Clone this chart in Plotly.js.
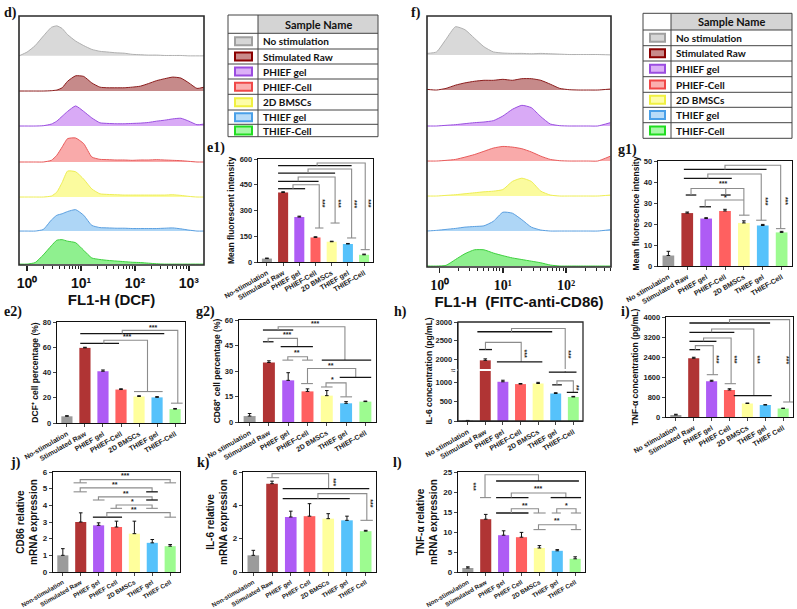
<!DOCTYPE html>
<html>
<head>
<meta charset="utf-8">
<script src="https://cdn.plot.ly/plotly-3.0.1.min.js"></script>
<style>body{margin:0;background:#fff}#plot{width:797px;height:609px}</style>
</head>
<body>
<div id="plot"></div>
<script>
// groups and tick labels
const groups = ['No stimulation', 'Stimulated Raw', 'PHIEF gel', 'PHIEF-Cell', '2D BMSCs', 'THIEF gel', 'THIEF-Cell'];
const labelsDash = ['No-stimulation', 'Stimulated Raw', 'PHIEF gel', 'PHIEF-Cell', '2D BMSCs', 'THIEF gel', 'THIEF-Cell'];
const labelsCell = ['No stimulation', 'Stimulated Raw', 'PHIEF gel', 'PHIEF Cell', '2D BMSCs', 'THIEF gel', 'THIEF Cell'];
const labelsNon = ['Non-stimulation', 'Stimulated Raw', 'PHIEF gel', 'PHIEF Cell', '2D BMSCs', 'THIEF gel', 'THIEF Cell'];
const logTickText = ['10⁰', '10¹', '10²', '10³'];

// d) FL1-H (DCF) histograms: log10 of intensity, heights as share of a strip
const dcfLog = [-0.15, 0, 0.15, 0.3, 0.45, 0.55, 0.65, 0.75, 0.9, 1.05, 1.2, 1.35, 1.5, 1.65, 1.8, 1.95, 2.1, 2.25, 2.4, 2.55, 2.7, 2.85, 3.0, 3.15, 3.28];
const dcfNoStim = [0, 0.1, 0.27, 0.52, 0.75, 0.79, 0.72, 0.56, 0.39, 0.27, 0.17, 0.12, 0.1, 0.08, 0.07, 0.04, 0.03, 0.02, 0.02, 0.01, 0.01, 0.01, 0, 0, 0];
const dcfRaw = [0, 0, 0, 0, 0.01, 0.03, 0.1, 0.3, 0.47, 0.45, 0.25, 0.12, 0.1, 0.1, 0.1, 0.12, 0.15, 0.23, 0.32, 0.38, 0.43, 0.4, 0.25, 0.08, 0.12];
const dcfPhiefGel = [0, 0, 0, 0.01, 0.06, 0.15, 0.3, 0.45, 0.62, 0.45, 0.25, 0.1, 0.08, 0.07, 0.07, 0.08, 0.09, 0.11, 0.15, 0.18, 0.22, 0.24, 0.15, 0.04, 0.06];
const dcfPhiefCell = [0, 0, 0, 0, 0.05, 0.2, 0.45, 0.7, 0.72, 0.55, 0.15, 0.08, 0.07, 0.06, 0.06, 0.05, 0.06, 0.06, 0.07, 0.06, 0.05, 0.04, 0.02, 0, 0];
const dcf2D = [0, 0, 0, 0, 0.03, 0.15, 0.45, 0.8, 0.78, 0.55, 0.25, 0.1, 0.08, 0.07, 0.06, 0.06, 0.06, 0.06, 0.06, 0.06, 0.07, 0.05, 0.02, 0, 0];
const dcfThiefGel = [0, 0, 0, 0.05, 0.35, 0.5, 0.55, 0.62, 0.68, 0.5, 0.18, 0.11, 0.1, 0.09, 0.09, 0.08, 0.08, 0.08, 0.08, 0.09, 0.1, 0.07, 0.03, 0, 0];
const dcfThiefCell = [0, 0, 0.05, 0.3, 0.6, 0.78, 0.8, 0.75, 0.7, 0.45, 0.2, 0.15, 0.12, 0.1, 0.08, 0.06, 0.05, 0.03, 0.01, 0, 0, 0, 0, 0, 0];

// f) FL1-H (FITC-anti-CD86) histograms
const cd86Log = [-0.2, -0.05, 0.1, 0.25, 0.4, 0.55, 0.7, 0.85, 1.0, 1.15, 1.3, 1.45, 1.6, 1.75, 1.9, 2.05, 2.2, 2.35, 2.5, 2.7];
const cd86NoStim = [0.04, 0.08, 0.42, 0.76, 0.68, 0.45, 0.22, 0.08, 0.05, 0.04, 0.04, 0.03, 0.04, 0.03, 0.02, 0.01, 0.01, 0.01, 0.01, 0];
const cd86Raw = [0.02, 0, 0.05, 0.15, 0.22, 0.27, 0.3, 0.3, 0.33, 0.3, 0.35, 0.35, 0.3, 0.18, 0.05, 0.01, 0, 0, 0, 0.03];
const cd86PhiefGel = [0, 0, 0.02, 0.04, 0.07, 0.1, 0.12, 0.16, 0.3, 0.5, 0.62, 0.55, 0.28, 0.06, 0.01, 0, 0, 0, 0, 0.1];
const cd86PhiefCell = [0, 0, 0.02, 0.05, 0.12, 0.2, 0.3, 0.4, 0.45, 0.43, 0.38, 0.28, 0.15, 0.05, 0.01, 0, 0, 0, 0, 0.15];
const cd862D = [0, 0, 0.02, 0.04, 0.07, 0.1, 0.13, 0.15, 0.2, 0.45, 0.55, 0.45, 0.15, 0.03, 0, 0, 0, 0, 0, 0.03];
const cd86ThiefGel = [0, 0.02, 0.05, 0.08, 0.12, 0.14, 0.16, 0.3, 0.58, 0.55, 0.35, 0.12, 0.03, 0, 0, 0, 0, 0, 0, 0.04];
const cd86ThiefCell = [0, 0, 0.02, 0.2, 0.38, 0.5, 0.5, 0.4, 0.32, 0.25, 0.2, 0.15, 0.1, 0.03, 0, 0, 0, 0, 0, 0];

// bar panels: mean and error bar per group
const e1Mean = [20, 405, 262, 143, 118, 105, 42];
const e1Err = [3, 4, 5, 4, 3, 3, 4];
const g1Mean = [5, 25.2, 22.6, 26.2, 20.5, 19.3, 16];
const g1Err = [2, 0.5, 0.4, 0.8, 1, 0.5, 0.5];
const e2Mean = [5.3, 59.5, 41, 26.5, 21, 20.3, 11];
const e2Err = [0.5, 0.5, 1, 0.6, 0.6, 0.6, 0.5];
const g2Mean = [3.5, 35, 24.5, 18, 15.5, 11, 12];
const g2Err = [1.5, 1, 4.5, 1.5, 3, 1, 0.3];
const il6Mean = [10, 1980, 1020, 960, 975, 715, 625];
const il6Err = [5, 40, 40, 15, 30, 20, 15];
const tnfMean = [80, 2350, 1430, 1080, 540, 480, 340];
const tnfErr = [30, 40, 40, 50, 20, 15, 15];
const cd86Rna = [1.0, 3.0, 2.8, 2.7, 2.3, 1.75, 1.55];
const cd86RnaErr = [0.4, 0.55, 0.15, 0.35, 0.75, 0.2, 0.1];
const il6Rna = [1.0, 5.3, 3.3, 3.35, 3.2, 3.1, 2.45];
const il6RnaErr = [0.3, 0.15, 0.35, 0.75, 0.3, 0.25, 0.05];
const tnfRna = [1.0, 13.2, 9.2, 8.7, 6.0, 5.3, 3.3];
const tnfRnaErr = [0.3, 1.2, 1.1, 1.2, 0.6, 0.3, 0.5];

// significance brackets: [colour, x,y, x,y ...] in group index / value units
const sigE1 = {
  lines: [['k', 0.69, 427, 2.36, 427], ['g', 1.61, 427, 1.61, 450, 3.23, 450, 3.23, 198], ['g', 2.97, 198, 3.49, 198],
    ['k', 0.69, 470, 3.19, 470], ['g', 1.93, 470, 1.93, 495, 4.21, 495, 4.21, 227], ['g', 3.93, 227, 4.49, 227],
    ['k', 0.69, 518, 4.21, 518], ['g', 2.54, 518, 2.54, 542, 5.23, 542, 5.23, 140], ['g', 4.95, 140, 5.51, 140],
    ['k', 0.69, 561, 5.23, 561], ['g', 3.1, 561, 3.1, 577, 6.07, 577, 6.07, 72], ['g', 5.79, 72, 6.35, 72]],
  marks: [['***', 3.42, 340, 90], ['***', 4.4, 340, 90], ['***', 5.42, 340, 90], ['***', 6.26, 340, 90]]
};
const sigE2 = {
  lines: [['k', 0.74, 63, 2.89, 63], ['g', 2.05, 63, 2.05, 65.6, 4.47, 65.6, 4.47, 24.9], ['g', 3.72, 24.9, 5.31, 24.9],
    ['k', 0.74, 70.8, 5.4, 70.8], ['g', 3.07, 70.8, 3.07, 73.4, 6.15, 73.4, 6.15, 15.7], ['g', 5.77, 15.7, 6.42, 15.7]],
  marks: [['***', 3.35, 68.3, 0], ['***', 4.75, 75.8, 0]]
};
const sigG1 = {
  lines: [['k', 0.92, 33.8, 1.48, 33.8], ['k', 2.78, 33.8, 3.3, 33.8], ['g', 1.2, 33.8, 1.2, 36.9, 4.0, 36.9, 4.0, 24.2],
    ['g', 3.04, 33.8, 3.04, 36.9], ['g', 3.74, 24.2, 4.3, 24.2], ['k', 1.65, 28.2, 2.26, 28.2], ['g', 1.95, 28.2, 1.95, 31.4, 4.0, 31.4],
    ['k', 0.82, 41.7, 3.36, 41.7], ['g', 2.09, 41.7, 2.09, 43.8, 4.92, 43.8, 4.92, 21.8], ['g', 4.65, 21.8, 5.2, 21.8],
    ['k', 0.82, 46, 5.2, 46], ['g', 3.0, 46, 3.0, 48, 5.95, 48, 5.95, 17.8], ['g', 5.7, 17.8, 6.2, 17.8]],
  marks: [['***', 2.87, 39.4, 0], ['*', 3.0, 32.4, 0], ['***', 5.15, 31, 90], ['***', 6.18, 31, 90]]
};
const sigG2 = {
  lines: [['k', 0.69, 54.1, 2.26, 54.1], ['g', 1.48, 54.1, 1.48, 56, 4.94, 56, 4.94, 36.4], ['k', 3.74, 36.4, 6.3, 36.4],
    ['k', 0.69, 47.2, 1.24, 47.2], ['g', 0.96, 47.2, 0.96, 49.2, 2.48, 49.2, 2.48, 44.3], ['k', 1.61, 44.3, 3.28, 44.3],
    ['g', 1.7, 36.4, 2.26, 36.4], ['g', 1.98, 36.4, 1.98, 38.4, 3.0, 38.4, 3.0, 36.4], ['g', 2.72, 36.4, 3.28, 36.4],
    ['g', 2.67, 22.6, 3.28, 22.6], ['g', 3.0, 22.6, 3.0, 31.5, 5.5, 31.5, 5.5, 26.2], ['k', 4.67, 26.2, 6.3, 26.2],
    ['g', 3.7, 20.6, 4.3, 20.6], ['g', 3.96, 20.6, 3.96, 23, 5.0, 23, 5.0, 14.8], ['g', 4.7, 14.8, 5.31, 14.8]],
  marks: [['***', 3.37, 58.2, 0], ['***', 1.93, 51.6, 0], ['**', 2.48, 40.6, 0], ['**', 4.2, 33.5, 0], ['*', 4.3, 24.9, 0]]
};
const sigIl6Up = {
  lines: [['k', 0.65, 2267, 1.38, 2267], ['g', 1.01, 2267, 1.01, 2457, 3.04, 2457, 3.04, 1940], ['k', 1.66, 1940, 4.24, 1940],
    ['k', 0.55, 2741, 4.8, 2741], ['g', 2.49, 2741, 2.49, 2828, 5.54, 2828, 5.54, 1700]],
  marks: [['***', 3.22, 2150, 90], ['***', 5.68, 2150, 90]]
};
const sigIl6Lo = {
  lines: [['g', 5.54, 1350, 5.54, 1270], ['k', 4.61, 1270, 6.18, 1270], ['k', 4.8, 940, 5.35, 940],
    ['g', 5.07, 940, 5.07, 1043, 6.0, 1043, 6.0, 744], ['k', 5.63, 744, 6.27, 744]],
  marks: [['**', 6.15, 860, 90]]
};
const sigTnf = {
  lines: [['k', 0.76, 2693, 1.36, 2693], ['g', 1.09, 2693, 1.09, 2853, 2.09, 2853, 2.09, 1693], ['g', 1.73, 1693, 2.36, 1693],
    ['k', 0.76, 3027, 2.27, 3027], ['g', 1.55, 3027, 1.55, 3160, 3.09, 3160, 3.09, 1333], ['g', 2.73, 1333, 3.36, 1333],
    ['k', 0.76, 3387, 3.27, 3387], ['g', 2.0, 3387, 2.0, 3520, 4.36, 3520, 4.36, 853], ['k', 3.24, 853, 5.36, 853],
    ['k', 0.76, 3760, 5.27, 3760], ['g', 3.0, 3760, 3.0, 3893, 6.36, 3893, 6.36, 600], ['g', 6.0, 600, 6.55, 600]],
  marks: [['***', 2.27, 2290, 90], ['***', 3.27, 2290, 90], ['***', 4.55, 2290, 90], ['***', 6.2, 2290, 90]]
};
const sigJ = {
  lines: [['g', 0.6, 5.35, 1.34, 5.35], ['g', 0.97, 5.35, 0.97, 5.54, 6.0, 5.54, 6.0, 5.35], ['g', 5.68, 5.35, 6.33, 5.35],
    ['g', 0.6, 4.81, 1.34, 4.81], ['g', 0.97, 4.81, 0.97, 5.05, 4.99, 5.05, 4.99, 4.81], ['k', 4.66, 4.81, 5.31, 4.81],
    ['g', 1.68, 4.32, 2.33, 4.32], ['g', 1.99, 4.32, 1.99, 4.51, 4.99, 4.51, 4.99, 4.32], ['k', 4.66, 4.32, 5.31, 4.32],
    ['g', 2.66, 3.82, 3.31, 3.82], ['g', 2.98, 3.82, 2.98, 4.02, 4.99, 4.02, 4.99, 3.82], ['g', 4.66, 3.82, 5.31, 3.82],
    ['k', 1.68, 3.29, 3.31, 3.29], ['g', 2.46, 3.29, 2.46, 3.56, 6.0, 3.56, 6.0, 3.29], ['g', 5.68, 3.29, 6.33, 3.29]],
  marks: [['***', 3.45, 5.8, 0], ['**', 2.89, 5.26, 0], ['**', 3.54, 4.72, 0], ['*', 3.91, 4.22, 0], ['**', 4.0, 3.76, 0]]
};
const sigK = {
  lines: [['g', 0.72, 5.66, 1.38, 5.66], ['g', 1.0, 5.66, 1.0, 5.9, 4.02, 5.9, 4.02, 5.0], ['k', 1.57, 5.0, 6.19, 5.0],
    ['k', 1.57, 4.4, 5.15, 4.4], ['g', 3.45, 4.4, 3.45, 4.7, 6.06, 4.7, 6.06, 3.1], ['g', 5.72, 3.1, 6.38, 3.1]],
  marks: [['***', 4.3, 5.4, 90], ['***', 6.25, 4.1, 90]]
};
const sigL = {
  lines: [['g', 0.68, 18.6, 1.3, 18.6], ['g', 0.96, 18.6, 0.96, 24.3, 3.95, 24.3, 3.95, 22.75], ['k', 1.58, 22.75, 6.21, 22.75],
    ['k', 1.58, 18.6, 3.39, 18.6], ['g', 2.43, 18.6, 2.43, 19.75, 5.48, 19.75, 5.48, 18.6], ['k', 4.63, 18.6, 6.33, 18.6],
    ['k', 1.58, 14.75, 3.39, 14.75], ['g', 2.43, 14.75, 2.43, 15.8, 3.95, 15.8, 3.95, 14.75], ['g', 3.67, 14.75, 4.35, 14.75],
    ['g', 4.69, 14.75, 5.2, 14.75], ['g', 4.97, 14.75, 4.97, 15.8, 6.05, 15.8, 6.05, 14.75], ['g', 5.76, 14.75, 6.33, 14.75],
    ['g', 3.67, 10.6, 4.35, 10.6], ['g', 3.95, 10.6, 3.95, 11.8, 6.05, 11.8, 6.05, 10.6], ['g', 5.76, 10.6, 6.33, 10.6]],
  marks: [['***', 0.3, 21.3, 90], ['***', 3.95, 21.0, 0], ['**', 3.2, 16.6, 0], ['*', 5.5, 16.6, 0], ['**', 5.0, 12.9, 0]]
};

const barColors = ['#9b9b9b', '#b03434', '#ae5cf5', '#ff6060', '#ffff9c', '#56c2fb', '#9dfb90'];
const histFill = ['#d9d9d9', '#c68a8a', '#d9aaf6', '#f9aaaa', '#fbfb9e', '#aed6f6', '#8ff08f'];
const histLine = ['#b0b0b0', '#8b1c1c', '#9a4fe0', '#e85a5a', '#eeee55', '#5a9fe0', '#3ed03e'];
const swFill = ['#d6d6d6', '#c98b8b', '#dcb0f7', '#fbb0b0', '#fdfda8', '#b8dcf8', '#a8f8a8'];
const swLine = ['#a0a0a0', '#8b0000', '#9b4de0', '#f04848', '#f0f040', '#4aa0e8', '#22dd22'];

const W = 797, H = 609;
const X = v => v / W;
const Y = v => 1 - v / H;
const SANS = 'Liberation Sans, Arial, sans-serif';
const SERIF = 'Liberation Serif, Times New Roman, serif';
const TABLE = 'Lato, Liberation Sans, sans-serif';
const idx = groups.map((g, i) => i);

const traces = [];
const layout = {
  width: W, height: H,
  margin: {l: 0, r: 0, t: 0, b: 0},
  showlegend: false,
  paper_bgcolor: '#fff',
  plot_bgcolor: 'rgba(0,0,0,0)',
  font: {family: SANS, color: '#111'},
  shapes: [],
  annotations: []
};

let xN = 0, yN = 0;
const nextX = () => { xN++; return xN === 1 ? '' : String(xN); };
const nextY = () => { yN++; return yN === 1 ? '' : String(yN); };

function frame(x0, y0, x1, y1, w) {
  layout.shapes.push({type: 'rect', xref: 'paper', yref: 'paper', x0: X(x0), x1: X(x1), y0: Y(y1), y1: Y(y0),
    line: {color: '#2a2a2a', width: w}});
}

function histPanel(p) {
  const xs = nextX();
  let lastY = '';
  p.curves.forEach((c, k) => {
    const ys = nextY();
    lastY = ys;
    layout['yaxis' + ys] = {domain: [Y(p.strips[k + 1]), Y(p.strips[k])], anchor: 'x' + xs,
      range: [-0.03, 1.05], visible: false, fixedrange: true};
    traces.push({type: 'scatter', mode: 'lines', x: p.logs.map(v => Math.pow(10, v)), y: c,
      xaxis: 'x' + xs, yaxis: 'y' + ys, fill: 'tozeroy', fillcolor: histFill[k],
      line: {color: histLine[k], width: 1, shape: 'spline', smoothing: 0.5}, hoverinfo: 'skip'});
  });
  const minor = [];
  for (let e = 0; e < 4; e++) for (let m = 2; m < 10; m++) minor.push(m * Math.pow(10, e));
  layout['xaxis' + xs] = {domain: [X(p.x0), X(p.x1)], anchor: 'y' + lastY, type: 'log', range: p.range,
    tickvals: [1, 10, 100, 1000], ticktext: logTickText,
    ticks: 'outside', ticklen: 5, tickwidth: 1.3, tickcolor: '#222',
    minor: {ticks: 'outside', ticklen: 3, tickwidth: 1, tickcolor: '#222', tickvals: minor},
    showgrid: false, zeroline: false, showline: false,
    tickfont: {family: p.tickFamily, size: 14, weight: 'bold', color: '#111'},
    title: {text: p.title, font: {family: SANS, size: 15, weight: 'bold', color: '#111'}, standoff: 4}};
  frame(p.x0, p.strips[0], p.x1, p.strips[7], 1.6);
}

function addSig(sig, xr, yr) {
  sig.lines.forEach(l => {
    let d = '';
    for (let i = 1; i < l.length; i += 2) d += (i === 1 ? 'M' : 'L') + l[i] + ',' + l[i + 1];
    layout.shapes.push({type: 'path', path: d, xref: xr, yref: yr,
      line: {color: l[0] === 'k' ? '#151515' : '#8c8c8c', width: l[0] === 'k' ? 1.3 : 1.1}});
  });
  sig.marks.forEach(m => layout.annotations.push({xref: xr, yref: yr, x: m[1], y: m[2], text: m[0],
    showarrow: false, textangle: m[3], font: {size: 7, weight: 'bold', color: '#222'}}));
}

function xAxisFor(p, ys) {
  return {domain: [X(p.x0), X(p.x1)], anchor: 'y' + ys, range: [-0.55, 6.55],
    tickvals: idx, ticktext: p.labels, tickangle: -30, ticks: 'outside', ticklen: 3, tickwidth: 1,
    showline: true, mirror: p.mirror !== false, linecolor: '#111', linewidth: 1.3,
    showgrid: false, zeroline: false, tickfont: {size: p.xTickSize || 7, weight: 'bold', color: '#222'}};
}

function yAxisFor(p, xs, dom, range, tickvals, title) {
  return {domain: dom, anchor: 'x' + xs, range: range, tickvals: tickvals,
    ticks: 'outside', ticklen: 3, tickwidth: 1, showline: true, mirror: p.mirror !== false,
    linecolor: '#111', linewidth: 1.3, showgrid: false, zeroline: false,
    tickfont: {size: p.tickSize || 7.5, weight: 'bold', color: '#222'},
    title: title ? {text: title, font: {size: p.titleSize || 8.5, weight: 'bold', color: '#111'}, standoff: 3} : undefined};
}

function barTrace(p, xs, ys) {
  return {type: 'bar', x: idx, y: p.mean, xaxis: 'x' + xs, yaxis: 'y' + ys, width: 0.62,
    marker: {color: barColors, line: {width: 0}}, hoverinfo: 'skip',
    error_y: {type: 'data', array: p.err, symmetric: false, arrayminus: p.err.map(() => 0),
      color: '#111', thickness: 1, width: 1.8}};
}

function barPanel(p) {
  const xs = nextX(), ys = nextY();
  const ticks = [];
  for (let v = p.range[0]; v <= p.range[1] + 1e-9; v += p.dtick) ticks.push(+v.toFixed(4));
  layout['xaxis' + xs] = xAxisFor(p, ys);
  layout['yaxis' + ys] = yAxisFor(p, xs, [Y(p.y1), Y(p.y0)], p.range, ticks, p.ytitle);
  traces.push(barTrace(p, xs, ys));
  addSig(p.sig, 'x' + xs, 'y' + ys);
}

// broken y axis panel (h)
function brokenPanel(p) {
  const xs = nextX(), ysLo = nextY(), ysUp = nextY();
  p.mirror = false;
  layout['xaxis' + xs] = xAxisFor(p, ysLo);
  layout['yaxis' + ysLo] = yAxisFor(p, xs, [Y(p.y1), Y(p.yBreak + 1)], p.lower, p.lowTicks, null);
  layout['yaxis' + ysUp] = yAxisFor(p, xs, [Y(p.yBreak - 1), Y(p.y0)], p.upper, p.upTicks, null);
  traces.push(barTrace(p, xs, ysLo));
  traces.push(barTrace(p, xs, ysUp));
  addSig(p.sigUp, 'x' + xs, 'y' + ysUp);
  addSig(p.sigLo, 'x' + xs, 'y' + ysLo);
  frame(p.x0, p.y0, p.x1, p.y1, 1.3);
  layout.annotations.push({xref: 'paper', yref: 'paper', x: X(p.x0 - 5), y: Y(p.yBreak), text: '≈',
    showarrow: false, font: {size: 8, color: '#111'}});
  layout.annotations.push({xref: 'paper', yref: 'paper', x: X(p.x0 - 30), y: Y((p.y0 + p.y1) / 2),
    text: p.ytitle, textangle: -90, showarrow: false, font: {size: 8.5, weight: 'bold', color: '#111'}});
}

function legendTable(x0, xs, x1, rows) {
  layout.shapes.push({type: 'rect', xref: 'paper', yref: 'paper', x0: X(xs), x1: X(x1), y0: Y(rows[1]), y1: Y(rows[0]),
    fillcolor: '#d4d4d4', line: {width: 0}, layer: 'below'});
  rows.forEach(r => layout.shapes.push({type: 'line', xref: 'paper', yref: 'paper', x0: X(x0), x1: X(x1), y0: Y(r), y1: Y(r),
    line: {color: '#444', width: 1}}));
  [x0, xs, x1].forEach(c => layout.shapes.push({type: 'line', xref: 'paper', yref: 'paper', x0: X(c), x1: X(c),
    y0: Y(rows[0]), y1: Y(rows[rows.length - 1]), line: {color: '#444', width: 1}}));
  layout.annotations.push({xref: 'paper', yref: 'paper', x: X((xs + x1) / 2), y: Y((rows[0] + rows[1]) / 2),
    xanchor: 'center', yanchor: 'middle', text: 'Sample Name', showarrow: false,
    font: {family: TABLE, size: 11, weight: 'bold', color: '#111'}});
  groups.forEach((g, k) => {
    const cy = (rows[k + 1] + rows[k + 2]) / 2;
    layout.shapes.push({type: 'rect', xref: 'paper', yref: 'paper', x0: X(x0 + 7), x1: X(xs - 6),
      y0: Y(cy + 4), y1: Y(cy - 4), fillcolor: swFill[k], line: {color: swLine[k], width: 2}});
    layout.annotations.push({xref: 'paper', yref: 'paper', x: X(xs + 3), y: Y(cy), xanchor: 'left', yanchor: 'middle',
      text: g, showarrow: false, font: {family: TABLE, size: 10, weight: 'bold', color: '#111'}});
  });
}

function panelLabel(t, x, y) {
  layout.annotations.push({xref: 'paper', yref: 'paper', x: X(x), y: Y(y), xanchor: 'left', yanchor: 'top', text: t,
    showarrow: false, font: {family: SERIF, size: 14, weight: 'bold', color: '#111'}});
}

histPanel({x0: 19, x1: 204, strips: [16, 57, 92, 127, 163, 198, 232, 265], range: [-0.15, 3.28], logs: dcfLog,
  curves: [dcfNoStim, dcfRaw, dcfPhiefGel, dcfPhiefCell, dcf2D, dcfThiefGel, dcfThiefCell],
  title: 'FL1-H (DCF)', tickFamily: SANS});
histPanel({x0: 427, x1: 611, strips: [16, 56, 91, 127, 162, 197, 232, 267], range: [-0.2, 2.71], logs: cd86Log,
  curves: [cd86NoStim, cd86Raw, cd86PhiefGel, cd86PhiefCell, cd862D, cd86ThiefGel, cd86ThiefCell],
  title: 'FL1-H  (FITC-anti-CD86)', tickFamily: SERIF});

barPanel({x0: 258, x1: 373, y0: 159, y1: 262, mean: e1Mean, err: e1Err, range: [0, 600], dtick: 150,
  ytitle: 'Mean fluorescent intensity', labels: labelsDash, sig: sigE1});
barPanel({x0: 658, x1: 792, y0: 161, y1: 266, mean: g1Mean, err: g1Err, range: [0, 50], dtick: 10,
  ytitle: 'Mean fluorescence intensity', labels: groups, sig: sigG1});
barPanel({x0: 57, x1: 185, y0: 322, y1: 423, mean: e2Mean, err: e2Err, range: [0, 80], dtick: 20,
  ytitle: 'DCF⁺ cell percentage (%)', labels: labelsDash, sig: sigE2});
barPanel({x0: 239, x1: 376, y0: 320, y1: 422, mean: g2Mean, err: g2Err, range: [0, 60], dtick: 15,
  ytitle: 'CD68⁺ cell percentage (%)', labels: groups, sig: sigG2});
brokenPanel({x0: 458, x1: 583, y0: 322, y1: 421, yBreak: 370, mean: il6Mean, err: il6Err,
  lower: [0, 1300], upper: [1750, 3000], lowTicks: [0, 500, 1000], upTicks: [2000, 2500, 3000],
  ytitle: 'IL-6 concentration (pg/mL)', labels: groups, sigUp: sigIl6Up, sigLo: sigIl6Lo});
barPanel({x0: 666, x1: 793, y0: 317, y1: 417, mean: tnfMean, err: tnfErr, range: [0, 4000], dtick: 800,
  ytitle: 'TNF-α concentration (pg/mL)', labels: labelsCell, sig: sigTnf});
barPanel({x0: 53, x1: 180, y0: 472, y1: 572, mean: cd86Rna, err: cd86RnaErr, range: [0, 6], dtick: 1,
  ytitle: 'CD86 relative<br>mRNA expression', titleSize: 10, tickSize: 8, xTickSize: 6.3, labels: labelsNon, sig: sigJ});
barPanel({x0: 243, x1: 376, y0: 472, y1: 572, mean: il6Rna, err: il6RnaErr, range: [0, 6], dtick: 2,
  ytitle: 'IL-6 relative<br>mRNA expression', titleSize: 10, tickSize: 8, xTickSize: 6.3, labels: labelsNon, sig: sigK});
barPanel({x0: 458, x1: 585, y0: 472, y1: 572, mean: tnfRna, err: tnfRnaErr, range: [0, 25], dtick: 5,
  ytitle: 'TNF-α relative<br>mRNA expression', titleSize: 10, tickSize: 8, xTickSize: 6.3, labels: labelsNon, sig: sigL});

legendTable(228, 258, 378, [15, 33.3, 49, 64, 79, 94.3, 110, 124.3, 136.7]);
legendTable(643, 671, 792, [13.3, 30, 45.7, 61, 76.7, 92.3, 107.3, 122.7, 138.3]);

panelLabel('d)', 2, 3);
panelLabel('e1)', 205, 138);
panelLabel('f)', 409, 3);
panelLabel('g1)', 616, 140);
panelLabel('e2)', 2, 302);
panelLabel('g2)', 194, 302);
panelLabel('h)', 392, 302);
panelLabel('i)', 619, 302);
panelLabel('j)', 8, 453);
panelLabel('k)', 195, 453);
panelLabel('l)', 391, 453);

Plotly.newPlot('plot', traces, layout, {staticPlot: true, displayModeBar: false});
</script>
</body>
</html>
